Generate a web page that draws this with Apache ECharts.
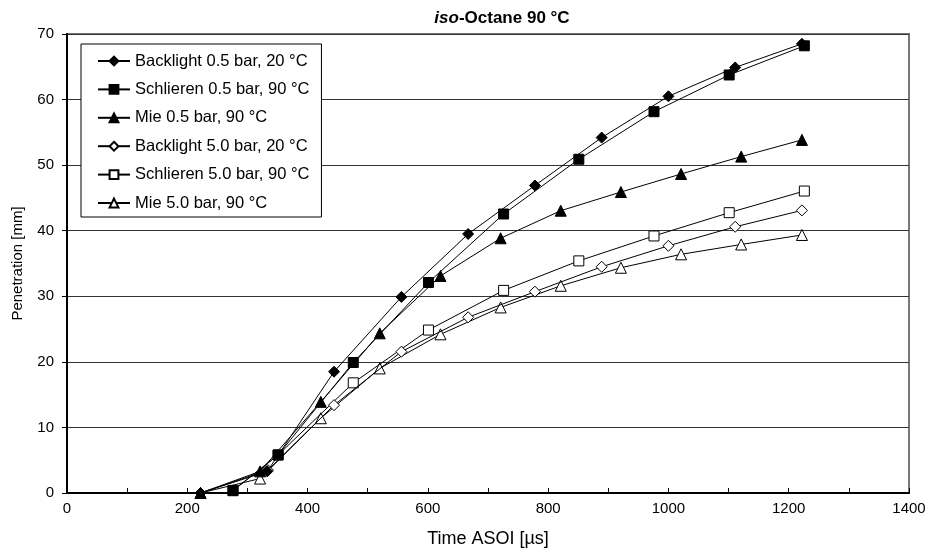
<!DOCTYPE html>
<html>
<head>
<meta charset="utf-8">
<script src="https://cdn.jsdelivr.net/npm/echarts@6/dist/echarts.min.js"></script>
<style>html,body{margin:0;padding:0;background:#fff}#c{width:935px;height:553px}</style>
</head>
<body>
<div id="c"></div>
<script>
// Data (time in µs, penetration in mm)
const backlight05 = [[222,0],[333,3.3],[444,18.5],[556,29.9],[667,39.5],[778,46.9],[889,54.2],[1000,60.5],[1111,64.9],[1222,68.5]];
const schlieren05 = [[276,0.4],[351,5.8],[476,19.9],[601,32.1],[726,42.55],[851,50.9],[976,58.15],[1101,63.75],[1226,68.2]];
const mie05 = [[222,0],[321,3.3],[422,13.9],[520,24.35],[621,33.1],[721,38.85],[821,43.05],[921,45.9],[1021,48.65],[1121,51.3],[1222,53.85]];
const backlight50 = [[222,0],[334,3.5],[444,13.4],[556,21.55],[667,26.8],[778,30.7],[889,34.5],[1000,37.7],[1111,40.6],[1222,43.1]];
const schlieren50 = [[276,0.35],[351,5.8],[476,16.8],[601,24.85],[726,30.9],[851,35.4],[976,39.2],[1101,42.75],[1226,46.05]];
const mie50 = [[222,0],[321,2.2],[422,11.4],[520,19.0],[621,24.2],[721,28.3],[821,31.6],[921,34.35],[1021,36.4],[1121,37.9],[1222,39.35]];

const seriesNames = ['Backlight 0.5 bar, 20 °C','Schlieren 0.5 bar, 90 °C','Mie 0.5 bar, 90 °C','Backlight 5.0 bar, 20 °C','Schlieren 5.0 bar, 90 °C','Mie 5.0 bar, 90 °C'];
const seriesData = [backlight05, schlieren05, mie05, backlight50, schlieren50, mie50];
const symbols = ['diamond','rect','triangle','diamond','rect','triangle'];
const symbolSizes = [11,10,11,11,10,11];
const filled = [true,true,true,false,false,false];

const FONT = 'Liberation Sans, Arial, sans-serif';
const chart = echarts.init(document.getElementById('c'));
const series = seriesNames.map((n,i)=>({
  name:n, type:'line', data:seriesData[i],
  symbol:symbols[i], symbolSize:symbolSizes[i], showAllSymbol:true,
  lineStyle:{color:'#000',width:1},
  itemStyle:{color: filled[i]?'#000':'#fff', borderColor:'#000', borderWidth:1},
  emphasis:{disabled:true}, animation:false, z: 2 + (5-i)
}));

chart.setOption({
  animation:false,
  backgroundColor:'#fff',
  title:{
    text:'{i|iso}{b|-Octane 90 °C}',
    left:497, top:5, textAlign:'center',
    textStyle:{rich:{
      i:{fontFamily:FONT,fontSize:17,fontWeight:'bold',fontStyle:'italic',color:'#000'},
      b:{fontFamily:FONT,fontSize:17,fontWeight:'bold',color:'#000'}
    }}
  },
  grid:{left:67,right:26,top:34,bottom:60,show:true,borderColor:'#777',borderWidth:2,backgroundColor:'transparent'},
  legend:{
    orient:'vertical', left:81, top:44,
    data:seriesNames,
    backgroundColor:'#fff', borderColor:'#000', borderWidth:1,
    padding:[7,12,4,16], itemWidth:32, itemHeight:11, itemGap:8.4,
    textStyle:{fontFamily:FONT,fontSize:16.5,lineHeight:20,color:'#000'},
    inactiveColor:'#000'
  },
  xAxis:{
    type:'value', min:0, max:1400, interval:200,
    name:'Time ASOI [µs]', nameLocation:'middle', nameGap:37,
    nameTextStyle:{fontFamily:FONT,fontSize:18,color:'#000'},
    axisLine:{show:true,onZero:false,lineStyle:{color:'#000',width:2}},
    axisTick:{show:true,inside:true,length:5,lineStyle:{color:'#000'}},
    minorTick:{show:true,splitNumber:2,length:5,lineStyle:{color:'#000'}},
    axisLabel:{fontFamily:FONT,fontSize:15,color:'#000',margin:8,formatter:v=>String(v)},
    splitLine:{show:false}
  },
  yAxis:{
    type:'value', min:0, max:70, interval:10,
    name:'Penetration [mm]', nameLocation:'middle', nameGap:42, nameRotate:90,
    nameTextStyle:{fontFamily:FONT,fontSize:15,color:'#000'},
    axisLine:{show:true,lineStyle:{color:'#000',width:2}},
    axisTick:{show:true,inside:false,length:5,lineStyle:{color:'#000'}},
    axisLabel:{fontFamily:FONT,fontSize:15,color:'#000',margin:13,formatter:v=>String(v)},
    splitLine:{show:true,lineStyle:{color:'#333',width:1}}
  },
  series:series
});
</script>
</body>
</html>
